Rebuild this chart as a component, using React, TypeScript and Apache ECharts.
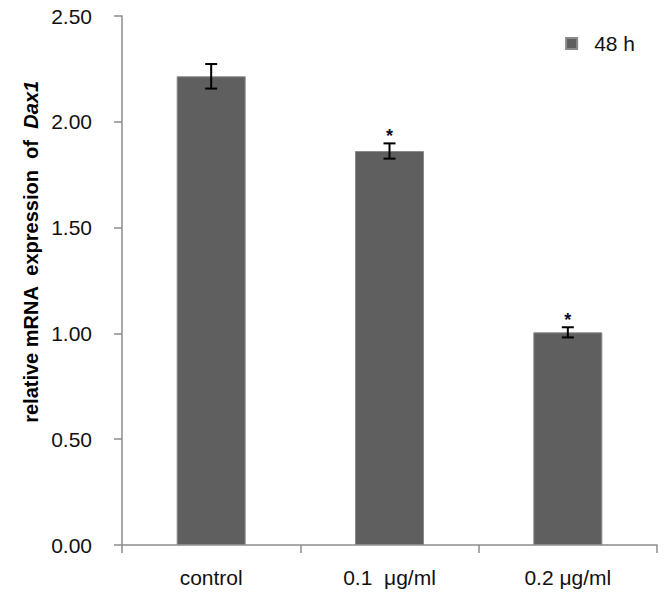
import React, { useEffect, useRef } from "react";
import * as echarts from "echarts";

const categories = ["control", "0.1  μg/ml", "0.2 μg/ml"];
const values = [2.215, 1.862, 1.005];
const errors = [0.058, 0.036, 0.024];
const significant = [false, true, true];
const seriesName = "48 h";
const yTicks = { min: 0, max: 2.5, interval: 0.5 };
const yAxisTitle = "{b|relative mRNA  expression  of  }{i|Dax1}";

export default function App() {
  const ref = useRef<HTMLDivElement>(null);
  useEffect(() => {
    const chart = echarts.init(ref.current!, null, { renderer: "svg" });
    const font = "'Liberation Sans', Arial, sans-serif";
    const errData = values.map((v, i) => [i, v, errors[i], significant[i] ? 1 : 0]);
    chart.setOption({
      animation: false,
      textStyle: { fontFamily: font },
      grid: { left: 122, right: 7, top: 16, bottom: 54, containLabel: false, outerBoundsMode: "none" },
      graphic: [
        {
          type: "text",
          x: 31,
          y: 252,
          rotation: Math.PI / 2,
          style: {
            text: yAxisTitle,
            align: "center",
            verticalAlign: "middle",
            rich: {
              b: { fontSize: 20, fontWeight: "bold", fill: "#000", fontFamily: font },
              i: { fontSize: 20, fontWeight: "bold", fontStyle: "italic", fill: "#000", fontFamily: font },
            },
          },
        },
      ],
      legend: {
        data: [seriesName],
        right: 24,
        top: 28,
        itemWidth: 11,
        itemHeight: 11,
        itemGap: 10,
        textStyle: { fontSize: 21, color: "#111", fontFamily: font, padding: [0, 0, 0, 12] },
        icon: "rect",
      },
      xAxis: {
        type: "category",
        data: categories,
        axisLine: { lineStyle: { color: "#8c8c8c", width: 1.5 } },
        axisTick: { show: true, length: 8, lineStyle: { color: "#8c8c8c", width: 1.5 } },
        axisLabel: { fontSize: 21, color: "#111", margin: 22, fontFamily: font },
      },
      yAxis: {
        type: "value",
        min: yTicks.min,
        max: yTicks.max,
        interval: yTicks.interval,
        axisLine: { show: true, lineStyle: { color: "#8c8c8c", width: 1.5 } },
        axisTick: { show: true, length: 8, lineStyle: { color: "#8c8c8c", width: 1.5 } },
        splitLine: { show: false },
        axisLabel: {
          fontSize: 21,
          color: "#111",
          margin: 30,
          fontFamily: font,
          formatter: (v: number) => v.toFixed(2),
        },
      },
      series: [
        {
          name: seriesName,
          type: "bar",
          data: values,
          barWidth: 69,
          itemStyle: { color: "#5f5f5f", borderColor: "#8a8a8a", borderWidth: 1 },
        },
        {
          type: "custom",
          data: errData,
          z: 10,
          renderItem: (params: any, api: any) => {
            const i = api.value(0);
            const v = api.value(1);
            const e = api.value(2);
            const sig = api.value(3);
            const top = api.coord([i, v + e]);
            const bot = api.coord([i, v - e]);
            const x = top[0];
            const hw = 6;
            const style = { stroke: "#000", lineWidth: 2 };
            const children: any[] = [
              { type: "line", shape: { x1: x, y1: top[1], x2: x, y2: bot[1] }, style },
              { type: "line", shape: { x1: x - hw, y1: top[1], x2: x + hw, y2: top[1] }, style },
              { type: "line", shape: { x1: x - hw, y1: bot[1], x2: x + hw, y2: bot[1] }, style },
            ];
            if (sig) {
              children.push({
                type: "text",
                style: {
                  text: "*",
                  x: x,
                  y: top[1] - 7,
                  align: "center",
                  verticalAlign: "middle",
                  fontSize: 18,
                  fontWeight: "bold",
                  fill: "#0a0a2a",
                  fontFamily: font,
                },
              });
            }
            return { type: "group", children };
          },
        },
      ],
    });
    return () => chart.dispose();
  }, []);
  return <div ref={ref} style={{ width: 664, height: 599, position: "absolute", left: 0, top: 0 }} />;
}
